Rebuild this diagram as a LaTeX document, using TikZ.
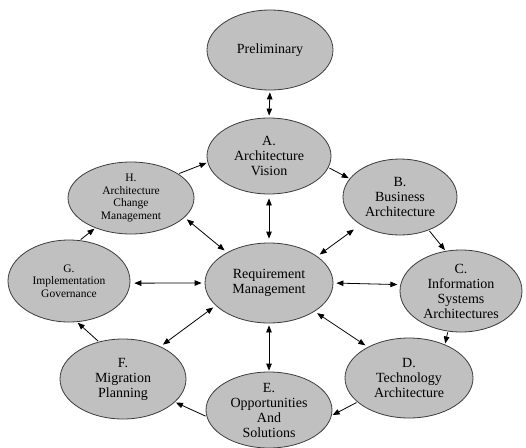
\documentclass[tikz,border=0pt]{standalone}
\usepackage{fontspec}
\setmainfont{Liberation Serif}
\usepackage{xcolor}
\usepackage{tikz}
\usetikzlibrary{arrows.meta,shapes.geometric}
\definecolor{phasegray}{RGB}{192,192,192}
\definecolor{rimgray}{RGB}{60,60,60}
\tikzset{
phase/.style={
draw=rimgray,
ellipse,
line width=0.8pt,
inner xsep=0pt,
inner ysep=-8pt,
minimum width=126pt,
minimum height=80pt,
align=center,
fill=phasegray,
font=\fontsize{14}{15}\selectfont
},
smallphase/.style={
phase,
font=\fontsize{11.5}{12.5}\selectfont
},
arrow/.style={
-{Triangle[length=7pt,width=5.5pt]},
line width=0.8pt,
shorten <=1pt,
shorten >=1pt
},
twoway/.style={
{Triangle[length=7pt,width=5.5pt]}-{Triangle[length=7pt,width=5.5pt]},
line width=0.8pt,
shorten <=3pt,
shorten >=3pt
}
}

\begin{document}
\begin{tikzpicture}[x=1pt,y=-1pt]
\useasboundingbox (0,0) rectangle (526,447);
\node[phase](pre) at (270,50){Preliminary};
\node[phase,minimum width=124pt,minimum height=76pt](a) at (269,156){A.\\Architecture\\Vision};
\node[smallphase,minimum height=72pt](h) at (131,198){H.\\Architecture\\Change\\Management};
\node[phase,minimum width=114pt,minimum height=76pt](b) at (400,197){B.\\Business\\Architecture};
\node[smallphase,minimum width=122pt,minimum height=82pt](g) at (69,281){G.\\Implementation\\Governance};
\node[phase,minimum width=128pt](req) at (269,283){Requirement\\Management};
\node[phase,minimum width=122pt,minimum height=82pt](c) at (461,291){C.\\Information\\Systems\\Architectures};
\node[phase](f) at (123,379){F.\\Migration\\Planning};
\node[phase,minimum width=128pt](d) at (409,378){D.\\Technology\\Architecture};
\node[phase,minimum height=76pt](e) at (269,410){E.\\Opportunities\\And\\Solutions};

\draw[twoway,shorten <=2pt,shorten >=2pt](pre.south)--(a.north);
\draw[twoway,shorten <=4pt,shorten >=4pt](a.south)--(req.north);
\draw[twoway](req.144)--(h.-20);
\draw[twoway,shorten >=8pt](req.29)--(b.215);
\draw[twoway,shorten >=4pt](req.west)--(g.-2);
\draw[twoway](req.east)--(c.174);
\draw[twoway](req.203)--(f.41);
\draw[twoway](req.-32)--(d.143);
\draw[twoway,shorten <=2pt,shorten >=1pt](req.south)--(e.north);

\draw[arrow](a.-11)--(b.160);
\draw[arrow](h.27)--(a.186);
\draw[arrow](g.75)--(h.220);
\draw[arrow](b.-49)--(c.111);
\draw[arrow](c.-108)--(d.43);
\draw[arrow](d.205)--(e.-5);
\draw[arrow](e.186)--(f.-24);
\draw[arrow](f.123)--(g.-79);
\end{tikzpicture}
\end{document}
